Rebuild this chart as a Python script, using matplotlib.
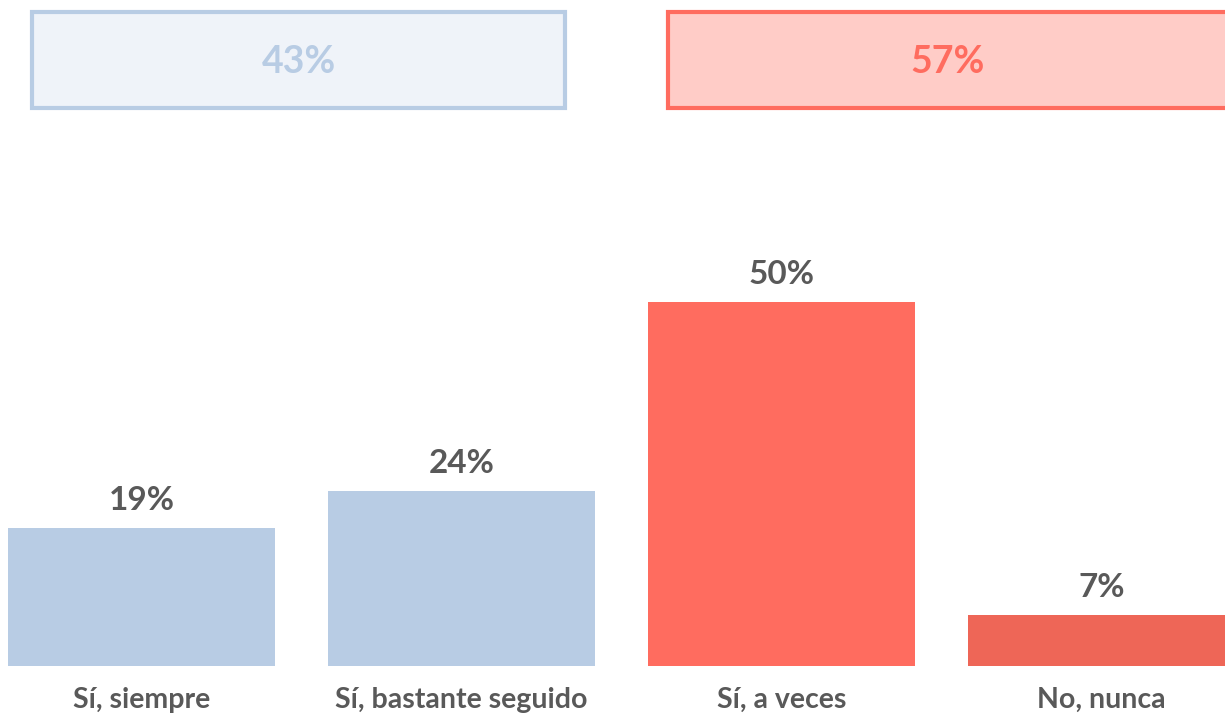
import matplotlib
matplotlib.use("Agg")
import matplotlib.pyplot as plt
from matplotlib.patches import Rectangle

categories = ["Sí, siempre", "Sí, bastante seguido", "Sí, a veces", "No, nunca"]
values = [19, 24, 50, 7]
bar_colors = ["#B8CCE4", "#B8CCE4", "#FF6C5F", "#EE6657"]
group_yes = values[0] + values[1]
group_no = values[2] + values[3]

plt.rcParams['font.family'] = ['Lato', 'DejaVu Sans']

W, H = 1225, 716
fig = plt.figure(figsize=(W / 100, H / 100), dpi=100)
ax = fig.add_axes([0, 0, 1, 1])
ax.set_axis_off()

px_per_cat = 320.0
x0 = 141.5
xmin = -x0 / px_per_cat
xmax = xmin + W / px_per_cat
px_per_unit = 7.28
base = 50.0
ymin = -base / px_per_unit
ymax = (H - base) / px_per_unit
ax.set_xlim(xmin, xmax)
ax.set_ylim(ymin, ymax)

xs = list(range(len(categories)))
ax.bar(xs, values, width=267 / px_per_cat, color=bar_colors, linewidth=0)

for x, v, cat in zip(xs, values, categories):
    ax.annotate(f"{v}%", (x, v), xytext=(0, 13), textcoords="offset pixels",
                ha="center", va="bottom", fontsize=24, fontweight="bold", color="#595959")
    ax.annotate(cat, (x, 0), xytext=(0, -34), textcoords="offset pixels",
                ha="center", va="center", fontsize=20.5, fontweight="bold", color="#595959")

# group boxes (figure pixel coordinates)
def box(x_left, width, face, edge, text):
    r = Rectangle((x_left / W, 1 - 108 / H), width / W, 96 / H, transform=fig.transFigure,
                  facecolor=face, edgecolor=edge, linewidth=3, clip_on=False)
    fig.add_artist(r)
    fig.text((x_left + width / 2) / W, 1 - 62 / H, text, ha="center", va="center",
             fontsize=27, fontweight="bold", color=edge)

box(32, 533, "#EFF3F9", "#B8CCE4", f"{group_yes}%")
box(668, 560, "#FFCCC7", "#FF6C5F", f"{group_no}%")

fig.savefig("out.png", dpi=100, facecolor="white")
